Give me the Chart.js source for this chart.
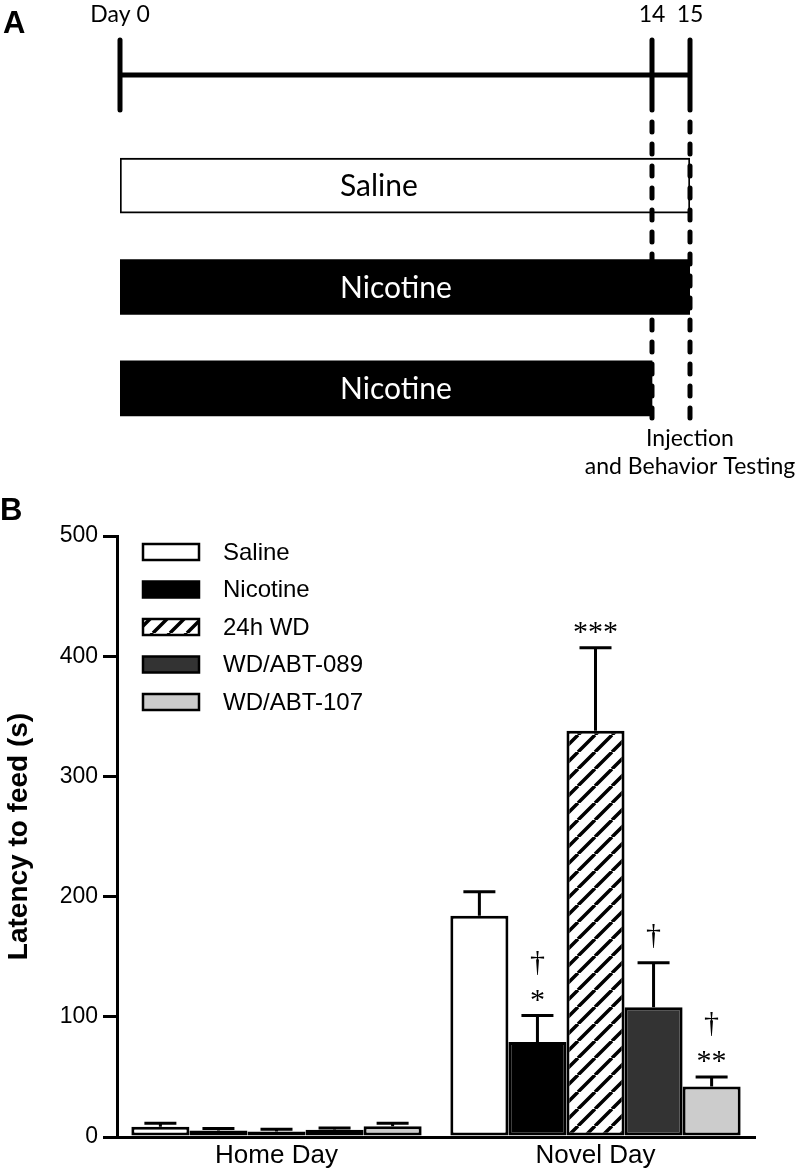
<!DOCTYPE html>
<html>
<head>
<meta charset="utf-8">
<title>Latency to feed</title>
<script src="https://cdn.jsdelivr.net/npm/chart.js@4.4.1/dist/chart.umd.min.js"></script>
<style>
  body { margin: 0; background: #fff; }
  #wrap { position: relative; width: 806px; height: 1170px; }
  canvas { position: absolute; left: 0; }
  #timelineChart { top: 0; }
  #latencyChart { top: 480px; }
</style>
</head>
<body>
<div id="wrap">
  <canvas id="timelineChart" width="806" height="480"></canvas>
  <canvas id="latencyChart" width="806" height="690"></canvas>
</div>
<script>
// Panel A - treatment schedule (days)
const scheduleGroups = ['Saline', 'Nicotine', 'Nicotine'];
const scheduleStart = [0, 0, 0];
const scheduleEnd = [15, 15, 14];
const timelineDays = [0, 14, 15];
const timelineLabels = ['Day 0', '14', '15'];
const testingNote = ['Injection', 'and Behavior Testing'];

// Panel B - latency to feed (s), mean and SEM per group
const dayLabels = ['Home Day', 'Novel Day'];
const groupNames = ['Saline', 'Nicotine', '24h WD', 'WD/ABT-089', 'WD/ABT-107'];
const salineMean = [8.5, 184];
const salineSem = [3, 20];
const nicotineMean = [5.5, 79];
const nicotineSem = [1.5, 22];
const wdMean = [4.5, 338];
const wdSem = [2, 69];
const abt089Mean = [6, 108];
const abt089Sem = [1.5, 37];
const abt107Mean = [9, 42];
const abt107Sem = [2.5, 8];
// significance marks, listed bottom to top
const salineMarks = [[], []];
const nicotineMarks = [[], ['*', '\u2020']];
const wdMarks = [[], ['***']];
const abt089Marks = [[], ['\u2020']];
const abt107Marks = [[], ['**', '\u2020']];
const yTicks = [0, 100, 200, 300, 400, 500];

const SANS = '"Liberation Sans", Arial, sans-serif';
const HUMANIST = 'Lato, "Open Sans", sans-serif';

// ---------- Panel A ----------
const timelinePlugin = {
    id: 'timeline',
    afterDraw(chart) {
        const ctx = chart.ctx;
        const x = chart.scales.x;
        const meta = chart.getDatasetMeta(0);
        ctx.save();

        // text inside the bars
        ctx.font = '30px ' + HUMANIST;
        ctx.textAlign = 'left';
        ctx.textBaseline = 'middle';
        meta.data.forEach((bar, i) => {
            ctx.fillStyle = i === 0 ? '#000' : '#fff';
            ctx.fillText(scheduleGroups[i], x.getPixelForValue(scheduleStart[i]) + 220, bar.y + 1);
        });

        // day line
        const lineY = 75;
        ctx.strokeStyle = '#000';
        ctx.lineWidth = 5;
        ctx.beginPath();
        ctx.moveTo(x.getPixelForValue(timelineDays[0]), lineY);
        ctx.lineTo(x.getPixelForValue(timelineDays[timelineDays.length - 1]), lineY);
        ctx.stroke();

        ctx.lineCap = 'round';
        ctx.font = '23px ' + HUMANIST;
        ctx.textAlign = 'center';
        ctx.textBaseline = 'alphabetic';
        ctx.fillStyle = '#000';
        timelineDays.forEach((d, i) => {
            const px = x.getPixelForValue(d);
            ctx.setLineDash([]);
            ctx.beginPath();
            ctx.moveTo(px, 40);
            ctx.lineTo(px, 110);
            ctx.stroke();
            if (i > 0) {
                ctx.setLineDash([10, 12]);
                ctx.beginPath();
                ctx.moveTo(px, 122);
                ctx.lineTo(px, 420);
                ctx.stroke();
            }
            ctx.fillText(timelineLabels[i], px, 22);
        });

        // note under the last day
        const last = x.getPixelForValue(timelineDays[timelineDays.length - 1]);
        testingNote.forEach((t, i) => {
            ctx.fillText(t, last, 446 + i * 28);
        });

        // panel letter
        ctx.font = 'bold 31px ' + SANS;
        ctx.textAlign = 'left';
        ctx.fillText('A', 3, 33);
        ctx.restore();
    }
};

new Chart(document.getElementById('timelineChart'), {
    type: 'bar',
    data: {
        labels: scheduleGroups,
        datasets: [{
            data: scheduleStart.map((s, i) => [s, scheduleEnd[i]]),
            backgroundColor: ['#ffffff', '#000000', '#000000'],
            borderColor: '#000',
            borderWidth: [2, 0, 0],
            borderSkipped: false,
            barThickness: 55
        }]
    },
    options: {
        indexAxis: 'y',
        responsive: false,
        animation: false,
        layout: { padding: { left: 120, right: 116, top: 135, bottom: 41 } },
        plugins: { legend: { display: false }, tooltip: { enabled: false } },
        scales: {
            x: { type: 'linear', min: 0, max: 15, display: false },
            y: { type: 'category', display: false }
        }
    },
    plugins: [timelinePlugin]
});

// ---------- Panel B ----------
const latencyCanvas = document.getElementById('latencyChart');

function makeHatch(ctx) {
    const s = 17;
    const tile = document.createElement('canvas');
    tile.width = s;
    tile.height = s;
    const g = tile.getContext('2d');
    g.fillStyle = '#fff';
    g.fillRect(0, 0, s, s);
    g.strokeStyle = '#000';
    g.lineWidth = 3.5;
    g.beginPath();
    for (let k = -1; k <= 1; k++) {
        g.moveTo(k * s, s);
        g.lineTo(k * s + s, 0);
    }
    g.stroke();
    return ctx.createPattern(tile, 'repeat');
}

const hatch = makeHatch(latencyCanvas.getContext('2d'));
const seriesMeans = [salineMean, nicotineMean, wdMean, abt089Mean, abt107Mean];
const seriesSem = [salineSem, nicotineSem, wdSem, abt089Sem, abt107Sem];
const seriesMarks = [salineMarks, nicotineMarks, wdMarks, abt089Marks, abt107Marks];
const fills = ['#ffffff', '#000000', hatch, '#333333', '#cccccc'];

const errorBarPlugin = {
    id: 'errorBars',
    afterDatasetsDraw(chart) {
        const ctx = chart.ctx;
        const yScale = chart.scales.y;
        ctx.save();
        ctx.strokeStyle = '#000';
        ctx.fillStyle = '#000';
        ctx.lineWidth = 3;
        chart.data.datasets.forEach((ds, i) => {
            const meta = chart.getDatasetMeta(i);
            meta.data.forEach((bar, j) => {
                const top = yScale.getPixelForValue(ds.data[j] + ds.sem[j]);
                ctx.beginPath();
                ctx.moveTo(bar.x, bar.y);
                ctx.lineTo(bar.x, top);
                ctx.moveTo(bar.x - 16, top);
                ctx.lineTo(bar.x + 16, top);
                ctx.stroke();

                // significance marks stacked above the cap
                ctx.font = '30px "Liberation Serif", "Times New Roman", serif';
                ctx.textAlign = 'center';
                ctx.textBaseline = 'alphabetic';
                let cursor = top - 15;
                ds.marks[j].forEach(s => {
                    const m = ctx.measureText(s);
                    const base = cursor - m.actualBoundingBoxDescent;
                    ctx.fillText(s, bar.x, base);
                    cursor = base - m.actualBoundingBoxAscent - 15;
                });
            });
        });
        ctx.restore();
    }
};

const legendPlugin = {
    id: 'boxLegend',
    afterDraw(chart) {
        const ctx = chart.ctx;
        const area = chart.chartArea;
        ctx.save();
        ctx.font = '24px ' + SANS;
        ctx.textBaseline = 'middle';
        ctx.textAlign = 'left';
        chart.data.datasets.forEach((ds, i) => {
            const cy = area.top + 16 + i * 37.5;
            const bx = area.left + 26;
            ctx.fillStyle = ds.backgroundColor;
            ctx.fillRect(bx, cy - 8, 56, 16);
            ctx.strokeStyle = '#000';
            ctx.lineWidth = 2.5;
            ctx.strokeRect(bx, cy - 8, 56, 16);
            ctx.fillStyle = '#000';
            ctx.fillText(ds.label, area.left + 106, cy + 1);
        });
        ctx.font = 'bold 31px ' + SANS;
        ctx.textBaseline = 'alphabetic';
        ctx.fillText('B', 0, 40);
        ctx.restore();
    }
};

new Chart(latencyCanvas, {
    type: 'bar',
    data: {
        labels: dayLabels,
        datasets: groupNames.map((name, i) => ({
            label: name,
            data: seriesMeans[i],
            sem: seriesSem[i],
            marks: seriesMarks[i],
            backgroundColor: fills[i],
            borderColor: '#000',
            borderWidth: 3,
            borderSkipped: false,
            categoryPercentage: 0.91,
            barPercentage: 1
        }))
    },
    options: {
        responsive: false,
        animation: false,
        layout: { padding: { top: 56, right: 51, bottom: 0, left: 0 } },
        plugins: { legend: { display: false }, tooltip: { enabled: false } },
        scales: {
            x: {
                grid: { display: false, drawTicks: false, tickLength: 0 },
                border: { display: true, color: '#000', width: 3 },
                ticks: { color: '#000', font: { family: SANS, size: 26 }, padding: 3 },
                afterFit: s => { s.height = 33; }
            },
            y: {
                min: yTicks[0],
                max: yTicks[yTicks.length - 1],
                ticks: { stepSize: yTicks[1] - yTicks[0], color: '#000', font: { family: SANS, size: 23 }, padding: 5 },
                grid: { drawOnChartArea: false, drawTicks: true, tickLength: 14, color: '#000', lineWidth: 3 },
                border: { display: true, color: '#000', width: 3 },
                title: {
                    display: true,
                    text: 'Latency to feed (s)',
                    color: '#000',
                    font: { family: SANS, size: 28, weight: 'bold' },
                    padding: { top: 2, bottom: 0 }
                },
                afterFit: s => { s.width = 117; }
            }
        }
    },
    plugins: [errorBarPlugin, legendPlugin]
});
</script>
</body>
</html>
